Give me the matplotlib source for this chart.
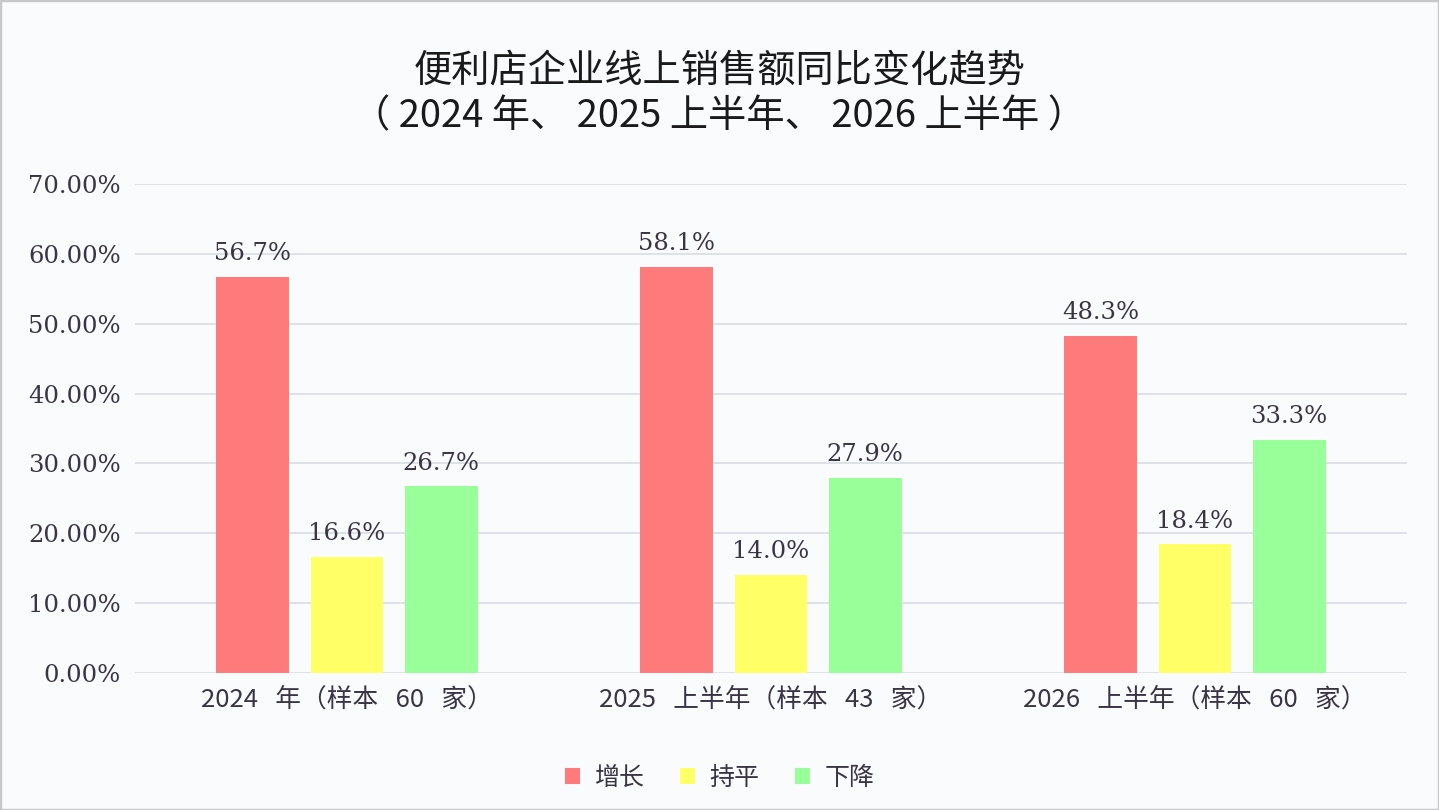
import numpy as np
import matplotlib.pyplot as plt
from matplotlib.ticker import FuncFormatter
from matplotlib.patches import Rectangle

categories = ['2024   年（样本   60   家）', '2025   上半年（样本   43   家）', '2026   上半年（样本   60   家）']
series_names = ['增长', '持平', '下降']
growth = [56.7, 58.1, 48.3]
flat = [16.6, 14.0, 18.4]
decline = [26.7, 27.9, 33.3]
colors = ['#FF7B7B', '#FFFF66', '#99FF99']

title = '便利店企业线上销售额同比变化趋势\n（ 2024 年、 2025 上半年、 2026 上半年 ）'

cjk = ['Noto Sans CJK SC', 'DejaVu Sans']
serif = ['DejaVu Serif']
text_color = '#3a3545'

fig = plt.figure(figsize=(14.39, 8.10), dpi=100, facecolor='#FAFBFD')
ax = fig.add_axes([135 / 1439, 1 - 673 / 810, 1272 / 1439, (673 - 184) / 810])
ax.set_facecolor('#FAFBFD')

x = np.arange(len(categories))
width = 0.172
offsets = [-0.222, 0, 0.222]
for vals, name, col, off in zip([growth, flat, decline], series_names, colors, offsets):
    bars = ax.bar(x + off, vals, width, color=col, label=name, zorder=3)
    for b, v in zip(bars, vals):
        ax.text(b.get_x() + b.get_width() / 2, v + 1.7, f'{v:.1f}%', ha='center', va='bottom',
                fontsize=17.5, family=serif, color=text_color, zorder=4)

ax.set_xlim(-0.5, 2.5)
ax.set_ylim(0, 70)
ax.set_yticks(np.arange(0, 71, 10))
ax.yaxis.set_major_formatter(FuncFormatter(lambda v, p: f'{v:.2f}%'))
ax.grid(axis='y', color='#D9DCE1', linewidth=1.2, zorder=0)
for s in ax.spines.values():
    s.set_visible(False)
ax.tick_params(axis='both', length=0)
ax.tick_params(axis='y', pad=10, labelsize=17.5, labelcolor=text_color)
for lab in ax.get_yticklabels():
    lab.set_family(serif)
ax.set_xticks(x)
ax.set_xticklabels(categories, family=cjk, fontsize=18.5, color=text_color)
ax.tick_params(axis='x', pad=10)

fig.text(0.5, 1 - 94 / 810, title, ha='center', va='center', fontsize=27.5, family=cjk,
         color='#1a1a1a', linespacing=1.25)

leg = fig.legend(loc='center', bbox_to_anchor=(0.5, 1 - 778 / 810), ncol=3, frameon=False,
                 prop={'family': cjk, 'size': 18}, handlelength=0.6, handleheight=0.6,
                 columnspacing=1.4, handletextpad=0.6)
for t in leg.get_texts():
    t.set_color(text_color)

# thin frame round the picture
fig.patches.append(Rectangle((0, 0), 1, 1, transform=fig.transFigure, fill=False,
                             edgecolor='#C8C8C8', linewidth=2.5))

fig.savefig('out.png', dpi=100, facecolor=fig.get_facecolor())
